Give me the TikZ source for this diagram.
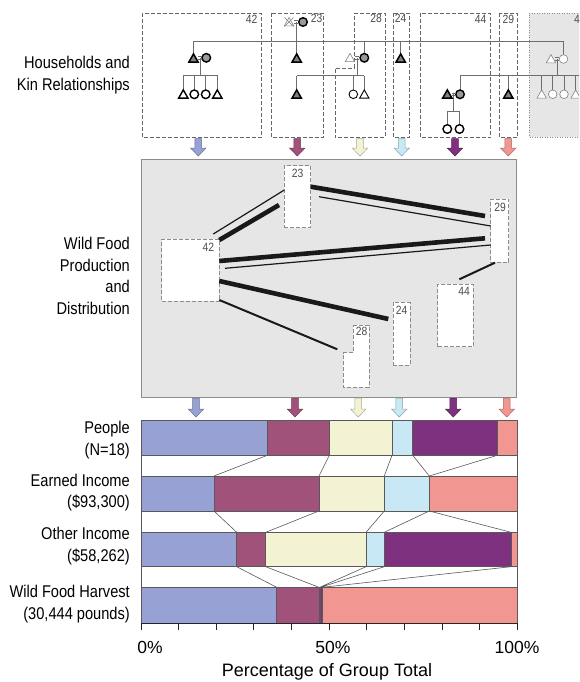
\documentclass[tikz,border=0pt]{standalone}
\usepackage{fontspec}
\setmainfont{Liberation Sans}
\newfontfamily\narrowf[FakeStretch=0.86]{Liberation Sans}
\usetikzlibrary{calc}
\definecolor{cBlue}{HTML}{97A1D3}
\definecolor{cMaroon}{HTML}{A0527A}
\definecolor{cCream}{HTML}{F3F3D4}
\definecolor{cLblue}{HTML}{C8E8F5}
\definecolor{cPurple}{HTML}{7E317E}
\definecolor{cSalmon}{HTML}{F19691}
\definecolor{panel}{HTML}{E6E6E6}
\definecolor{kin}{HTML}{6E6E6E}
\newcommand\famarrow[4]{%
  \filldraw[fill=#4, draw=#4!70!black, line width=0.5pt]
   (#1-3.4,#2) -- (#1+3.4,#2) -- (#1+3.4,#3-8) -- (#1+7.8,#3-8) -- (#1,#3) -- (#1-7.8,#3-8) -- (#1-3.4,#3-8) -- cycle;}
\newcommand\ktri[3][]{\draw[#1] (#2-4.7,#3+3.9) -- (#2+4.7,#3+3.9) -- (#2,#3-4.4) -- cycle;}
\newcommand\kcirc[3][]{\draw[#1] (#2,#3) circle[radius=4.3];}
\newcommand\marr[2]{\draw[kinl] (#1-2,#2-1.3) -- (#1+2,#2-1.3) (#1-2,#2+1.3) -- (#1+2,#2+1.3);}
\tikzset{
  kinl/.style={draw=kin, line width=0.7pt},
  fsym/.style={draw=black, line width=1.5pt, fill=black!50, line join=miter},
  fcsym/.style={draw=black, line width=1.4pt, fill=black!40},
  osym/.style={draw=black, line width=1.4pt, fill=white},
  msym/.style={draw=black, line width=0.9pt, fill=white},
  lsym/.style={draw=gray, line width=0.6pt, fill=white},
  tbox/.style={draw=black!60, dash pattern=on 4pt off 2pt, line width=0.7pt},
  mbox/.style={draw=black!45, dash pattern=on 4pt off 2pt, line width=0.8pt, fill=white, inner sep=0pt, outer sep=0pt, anchor=north west},
  num/.style={font=\narrowf\fontsize{12}{14}\selectfont, text=black!70, inner sep=0pt},
  lbl/.style={font=\narrowf\fontsize{17}{21.5}\selectfont, align=right, anchor=east, inner sep=0pt},
  thickl/.style={line width=4.6pt, black!90},
  medl/.style={line width=2pt, black!90},
  thinl/.style={line width=1.2pt, black!90},
  seg/.style={draw=black!65, line width=0.6pt},
  conn/.style={draw=black!65, line width=0.6pt},
}
\begin{document}
\begin{tikzpicture}[x=1pt, y=-1pt]
\clip (0,0) rectangle (579,682);
\fill[white] (0,0) rectangle (579,682);

% ---------- left labels ----------
\node[lbl] (lhk) at (130,75) {Households and\\Kin Relationships};
\node[lbl] (lwf) at (130,276) {Wild Food\\Production\\and\\Distribution};
\node[lbl] (lp) at (130,440) {People\\(N=18)};
\node[lbl] (le) at (130,492.5) {Earned Income\\(\$93,300)};
\node[lbl] (lo) at (130,546) {Other Income\\(\$58,262)};
\node[lbl] (lw) at (130,604) {Wild Food Harvest\\(30,444 pounds)};

% ---------- top households ----------
\fill[panel] (529.3,13) rectangle (590,137);
\draw[draw=black!45, dash pattern=on 1pt off 1.5pt, line width=0.7pt] (590,13) -- (529.3,13) -- (529.3,137) -- (590,137);
\draw[tbox] (142,13) rectangle (261,137.5);
\draw[tbox] (271,13) rectangle (323,137.5);
\draw[tbox] (354.3,13) -- (385,13) -- (385,137.5) -- (335,137.5) -- (335,68) -- (354.3,68) -- cycle;
\draw[tbox] (393.3,13) rectangle (409,137.5);
\draw[tbox] (420,13) rectangle (490.7,137.5);
\draw[tbox] (499.3,13) rectangle (517.3,137.5);
\node[num] (n42) at (251.7,19) {42};
\node[num] (n23) at (316.7,18) {23};
\node[num] (n28) at (376,18) {28};
\node[num] (n24) at (400.7,18.5) {24};
\node[num] (n44) at (480.7,19) {44};
\node[num] (n29) at (508.3,19) {29};
\node[num] (n4x) at (577,19) {4};

% kin lines
\draw[kinl] (193.5,41) -- (563.5,41);
\draw[kinl] (193.5,41) -- (193.5,54);
\draw[kinl] (364.3,41) -- (364.3,54);
\draw[kinl] (400.7,41) -- (400.7,54);
\draw[kinl] (563.5,41) -- (563.5,55);
% 42
\draw[kinl] (200,58) -- (200,75) (183.3,75) -- (217.3,75);
\foreach \x in {183.3,194.3,205.7,217.3} \draw[kinl] (\x,75) -- (\x,90);
\ktri[fsym]{193.5}{58.3}
\kcirc[fcsym]{206.3}{57.8}
\marr{200}{58}
\ktri[osym]{183.3}{94.3}
\kcirc[osym]{194.3}{94.3}
\kcirc[osym]{205.7}{94.3}
\ktri[osym]{217.3}{94.3}
% 23
\draw[kinl] (296.5,22) -- (296.5,54);
\ktri[lsym]{289}{22}
\draw[gray, line width=0.6pt] (284.5,17.5) -- (293.5,26.5) (293.5,17.5) -- (284.5,26.5);
\kcirc[fcsym]{303}{22}
\marr{296}{22}
\ktri[fsym]{296.7}{58.3}
% 28
\draw[kinl] (357.3,58) -- (357.3,75.7) (296.7,75.7) -- (364.3,75.7);
\foreach \x in {296.7,353.3,364.3} \draw[kinl] (\x,75.7) -- (\x,90);
\ktri[lsym]{350}{57.8}
\kcirc[fcsym]{364.3}{57.8}
\marr{357.2}{57.8}
\ktri[fsym]{296.7}{94.3}
\kcirc[msym]{353.3}{94.3}
\ktri[msym]{364.3}{94.3}
% 24
\ktri[fsym]{400.7}{58.3}
% grey household
\draw[kinl] (557.3,59) -- (557.3,75) (460,75) -- (590,75);
\foreach \x in {460,508.3,541.7,552.7,564,575.7} \draw[kinl] (\x,75) -- (\x,90);
\ktri[lsym]{551}{59}
\kcirc[lsym]{563.5}{59}
\marr{557.3}{59}
\ktri[lsym]{541.7}{94.3}
\kcirc[lsym]{552.7}{94.3}
\kcirc[lsym]{564}{94.3}
\ktri[lsym]{575.7}{94.3}
% 44
\draw[kinl] (453.6,94.3) -- (453.6,111) (447.3,111) -- (459.5,111);
\draw[kinl] (447.3,111) -- (447.3,125) (459.5,111) -- (459.5,125);
\ktri[fsym]{447.3}{94.3}
\kcirc[fcsym]{460}{94.3}
\marr{453.6}{94.3}
\kcirc[osym]{447.3}{129}
\kcirc[osym]{459.5}{129}
% 29
\ktri[fsym]{508.3}{94.3}

% arrows row 1
\famarrow{198.3}{138.5}{156}{cBlue}
\famarrow{297.3}{138.5}{156}{cMaroon}
\famarrow{360}{138.5}{156}{cCream}
\famarrow{401.7}{138.5}{156}{cLblue}
\famarrow{455}{138.5}{156}{cPurple}
\famarrow{508.3}{138.5}{156}{cSalmon}

% ---------- middle panel ----------
\draw[draw=black!45, fill=panel, line width=0.8pt] (141,159.3) rectangle (516.7,397.3);
\node[mbox, minimum width=26.4, minimum height=62] (m23) at (284.3,165.7) {};
\node[mbox, minimum width=57.6, minimum height=62] (m42) at (161.7,239) {};
\node[mbox, minimum width=18, minimum height=63.3] (m29) at (490.7,199) {};
\node[mbox, minimum width=35.6, minimum height=62.4] (m44) at (437.7,284.3) {};
\node[mbox, minimum width=16.7, minimum height=62.7] (m24) at (393.3,302.3) {};
\draw[draw=black!45, dash pattern=on 4pt off 2pt, line width=0.8pt, fill=white]
  (353.3,325) -- (369,325) -- (369,387.3) -- (343.3,387.3) -- (343.3,352.7) -- (353.3,352.7) -- cycle;
\node[num] at (297.7,173.3) {23};
\node[num] at (208.3,247.3) {42};
\node[num] at (500,207.3) {29};
\node[num] at (464,291) {44};
\node[num] at (401.7,310) {24};
\node[num] at (361.7,331) {28};

\draw[thinl] (213.3,234) -- (284.3,190);
\draw[thickl] (219.3,240) -- (279,205);
\draw[thickl] (310.7,186.7) -- (485,216);
\draw[thinl] (319,196.7) -- (490.7,226);
\draw[thickl] (219.3,261) -- (485,238.3);
\draw[thinl] (225,268.3) -- (490.7,245);
\draw[thickl] (219.3,281) -- (388.3,319);
\draw[medl] (219.3,300) -- (337.3,349.3);
\draw[medl] (495,262.7) -- (459.3,279.3);

% arrows row 2
\famarrow{196}{398}{417}{cBlue}
\famarrow{295}{398}{417}{cMaroon}
\famarrow{358.3}{398}{417}{cCream}
\famarrow{399.3}{398}{417}{cLblue}
\famarrow{453.3}{398}{417}{cPurple}
\famarrow{506.7}{398}{417}{cSalmon}

% ---------- bar chart ----------
\draw[seg] (141,420.7) rectangle (517.3,623);
% row 1
\filldraw[seg, fill=cBlue] (141,420.7) rectangle (267.3,455.3);
\filldraw[seg, fill=cMaroon] (267.3,420.7) rectangle (329.3,455.3);
\filldraw[seg, fill=cCream] (329.3,420.7) rectangle (392,455.3);
\filldraw[seg, fill=cLblue] (392,420.7) rectangle (412.7,455.3);
\filldraw[seg, fill=cPurple] (412.7,420.7) rectangle (497.3,455.3);
\filldraw[seg, fill=cSalmon] (497.3,420.7) rectangle (517.3,455.3);
% row 2
\filldraw[seg, fill=cBlue] (141,476) rectangle (214,511);
\filldraw[seg, fill=cMaroon] (214,476) rectangle (319,511);
\filldraw[seg, fill=cCream] (319,476) rectangle (384.3,511);
\filldraw[seg, fill=cLblue] (384.3,476) rectangle (429.3,511);
\filldraw[seg, fill=cSalmon] (429.3,476) rectangle (517.3,511);
% row 3
\filldraw[seg, fill=cBlue] (141,532.3) rectangle (236.7,566.7);
\filldraw[seg, fill=cMaroon] (236.7,532.3) rectangle (265.7,566.7);
\filldraw[seg, fill=cCream] (265.7,532.3) rectangle (366,566.7);
\filldraw[seg, fill=cLblue] (366,532.3) rectangle (384.3,566.7);
\filldraw[seg, fill=cPurple] (384.3,532.3) rectangle (511,566.7);
\filldraw[seg, fill=cSalmon] (511,532.3) rectangle (517.3,566.7);
% row 4
\filldraw[seg, fill=cBlue] (141,587.3) rectangle (276.7,623);
\filldraw[seg, fill=cMaroon] (276.7,587.3) rectangle (319,623);
\filldraw[seg, fill=cCream] (319,587.3) rectangle (319.8,623);
\filldraw[seg, fill=cLblue] (319.8,587.3) rectangle (320.6,623);
\filldraw[seg, fill=cPurple] (320.6,587.3) rectangle (322.5,623);
\filldraw[seg, fill=cSalmon] (322.5,587.3) rectangle (517.3,623);
% connectors
\draw[conn] (267.3,455.3) -- (214,476) (329.3,455.3) -- (319,476) (392,455.3) -- (384.3,476)
  (412.7,455.3) -- (429.3,476) (497.3,455.3) -- (429.3,476);
\draw[conn] (214,511) -- (236.7,532.3) (319,511) -- (265.7,532.3) (384.3,511) -- (366,532.3)
  (429.3,511) -- (384.3,532.3) (429.3,511) -- (511,532.3);
\draw[conn] (236.7,566.7) -- (276.7,587.3) (265.7,566.7) -- (319,587.3) (366,566.7) -- (319.8,587.3)
  (384.3,566.7) -- (320.6,587.3) (511,566.7) -- (322.5,587.3);

% axis
\draw[black!85, line width=1pt] (141,623.3) -- (517.3,623.3);
\foreach \i in {0,...,10} \draw[black!85, line width=1pt] (141+\i*37.63,623.3) -- (141+\i*37.63,629.5);
\node[font=\fontsize{17.5}{20}\selectfont] (t0) at (150,647) {0\%};
\node[font=\fontsize{17.5}{20}\selectfont] (t50) at (333,647) {50\%};
\node[font=\fontsize{17.5}{20}\selectfont] (t100) at (517,647) {100\%};
\node[font=\fontsize{18}{21}\selectfont] (xt) at (327,672) {Percentage of Group Total};
\end{tikzpicture}
\end{document}
